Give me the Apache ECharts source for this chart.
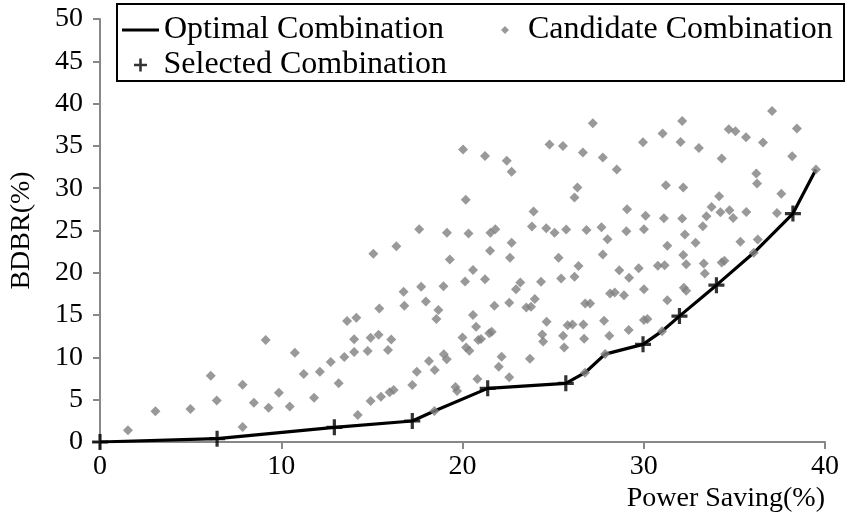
<!DOCTYPE html>
<html>
<head>
<meta charset="utf-8">
<script src="https://cdn.jsdelivr.net/npm/echarts@6/dist/echarts.min.js"></script>
<style>
  html, body { margin: 0; padding: 0; background: #ffffff; }
  #chart { width: 846px; height: 515px; }
</style>
</head>
<body>
<div id="chart"></div>
<script>
// Candidate combinations: power saving (%) and BDBR (%)
const candidatePower = [
  1.54, 3.06, 4.99, 6.11, 6.44, 7.87, 7.87, 8.49, 9.14, 9.30, 9.87, 10.47, 10.75, 11.24, 11.81, 12.13,
  12.73, 13.17, 13.48, 13.63, 14.14, 14.02, 14.02, 14.22, 14.77, 14.93, 14.93, 15.08, 15.37, 15.41,
  15.50, 15.89, 16.07, 15.98, 16.20, 16.35, 16.75, 16.79, 17.23, 17.48, 17.61, 17.72, 17.98, 18.15,
  18.47, 18.45, 18.67, 18.56, 18.95, 18.97, 19.13, 19.14, 19.30, 19.61, 19.70, 20.03, 20.18, 20.33,
  20.58, 20.14, 20.58, 20.75, 20.00, 20.20, 20.38, 20.87, 20.82, 21.24, 22.44, 22.71, 21.54, 21.81,
  21.52, 22.71, 22.62, 23.92, 23.83, 24.62, 25.08, 24.80, 25.54, 25.72, 25.30, 25.44, 24.33, 21.24,
  23.19, 22.95, 23.99, 22.58, 21.76, 23.52, 23.78, 21.02, 21.48, 21.61, 24.64, 24.40, 24.45, 25.55,
  25.61, 25.80, 22.16, 22.00, 23.72, 22.58, 27.19, 26.64, 27.74, 28.51, 29.96, 31.04, 26.34, 26.18,
  31.22, 29.08, 30.10, 31.11, 26.84, 27.67, 28.00, 29.04, 30.01, 31.30, 27.74, 26.40, 26.18, 28.65,
  29.19, 29.72, 30.01, 30.78, 31.15, 28.14, 28.40, 28.91, 26.77, 27.04, 31.30, 26.07, 26.67, 27.81,
  26.71, 28.10, 29.17, 30.01, 30.20, 31.01, 26.76, 27.87, 37.08, 32.12, 32.03, 33.04, 34.69, 35.06,
  35.64, 36.58, 38.45, 34.30, 38.19, 39.50, 36.21, 36.25, 32.18, 34.16, 37.59, 33.74, 34.23, 34.73,
  34.93, 35.66, 37.35, 32.12, 33.46, 33.26, 32.27, 32.86, 35.33, 36.29, 32.18, 32.34, 33.31, 33.37,
  34.30, 34.45, 36.07, 32.21, 32.34
];
const candidateBdbr = [
  1.38, 3.62, 3.90, 7.83, 4.92, 6.77, 1.77, 4.65, 12.05, 4.05, 5.83, 4.20, 10.55, 8.03, 5.24, 8.31,
  9.45, 6.93, 10.04, 14.29, 14.68, 12.16, 10.63, 3.19, 10.75, 12.32, 4.84, 22.24, 12.67, 15.79,
  5.35, 10.87, 12.13, 5.87, 6.14, 23.15, 17.75, 16.10, 6.73, 8.31, 25.16, 18.35, 16.61, 9.57,
  8.50, 3.66, 15.59, 14.53, 18.42, 10.36, 9.77, 24.72, 21.57, 6.50, 6.02, 34.57, 28.62, 24.65,
  20.33, 18.98, 15.00, 13.62, 12.36, 11.18, 10.79, 12.05, 7.44, 33.82, 33.23, 31.93, 24.72, 25.16,
  22.60, 23.54, 21.77, 27.24, 25.47, 25.27, 24.72, 35.16, 35.00, 25.12, 21.77, 19.33, 18.93, 19.25,
  18.86, 18.07, 16.89, 16.46, 16.10, 15.90, 15.98, 12.17, 12.84, 13.03, 14.21, 12.72, 11.89, 12.55,
  11.18, 13.80, 10.07, 8.90, 9.84, 7.64, 37.68, 34.21, 33.62, 32.20, 35.43, 36.46, 30.08, 28.90,
  30.35, 27.52, 26.73, 26.46, 25.07, 25.39, 23.98, 24.92, 25.16, 23.19, 22.17, 20.79, 19.53, 20.31,
  19.41, 20.55, 18.07, 20.82, 20.90, 17.56, 17.68, 17.36, 16.38, 16.38, 16.77, 13.90, 13.90, 14.33,
  12.20, 12.55, 13.23, 14.41, 14.53, 13.10, 8.19, 10.39, 39.13, 37.95, 35.47, 34.76, 36.97, 36.73,
  36.02, 35.40, 37.05, 33.51, 33.78, 32.20, 31.73, 30.55, 30.08, 29.05, 29.33, 27.79, 27.16, 27.40,
  26.49, 27.20, 27.08, 26.42, 26.69, 25.51, 24.53, 23.54, 23.66, 23.94, 22.09, 21.02, 21.10, 19.92,
  21.22, 21.41, 22.36, 18.22, 17.87
];

// Pareto front (optimal combinations)
const optimalPower = [0, 6.46, 12.93, 17.23, 18.45, 21.39, 25.70, 26.76, 27.87, 29.96, 31.01, 31.97, 34.01, 36.07, 38.23, 39.50];
const optimalBdbr  = [0, 0.39, 1.73, 2.48, 3.66, 6.34, 6.93, 8.19, 10.39, 11.54, 13.10, 14.88, 18.54, 22.36, 27.00, 32.20];

// Selected combinations on the front
const selectedPower = [0, 6.46, 12.93, 17.23, 21.39, 25.70, 29.96, 31.97, 34.01, 38.23];
const selectedBdbr  = [0, 0.39, 1.73, 2.48, 6.34, 6.93, 11.54, 14.88, 18.54, 27.00];

// Axis ticks
const xTicks = [0, 10, 20, 30, 40];
const yTicks = [0, 5, 10, 15, 20, 25, 30, 35, 40, 45, 50];

const seriesNames = ['Optimal Combination', 'Candidate Combination', 'Selected Combination'];
const axisTitles = { x: 'Power Saving(%)', y: 'BDBR(%)' };

const zip = (xs, ys) => xs.map((x, i) => [x, ys[i]]);
const plusPath = 'path://M4,0H6V4H10V6H6V10H4V6H0V4H4Z';
const diamondPath = 'path://M5,0L10,5L5,10L0,5Z';
const serif = '"Liberation Serif", "Times New Roman", serif';
const axisGray = '#888888';

const chart = echarts.init(document.getElementById('chart'), null, { renderer: 'canvas' });

const legendText = { fontFamily: serif, fontSize: 32, color: '#000000' };

chart.setOption({
  animation: false,
  backgroundColor: '#ffffff',
  grid: { left: 98, right: 21, top: 19, bottom: 73, containLabel: false },
  xAxis: {
    type: 'value',
    min: xTicks[0],
    max: xTicks[xTicks.length - 1],
    interval: xTicks[1] - xTicks[0],
    name: axisTitles.x,
    nameLocation: 'end',
    nameGap: 0,
    nameTextStyle: {
      fontFamily: serif, fontSize: 28, color: '#000000',
      align: 'right', verticalAlign: 'top', padding: [43, 0, 0, 0]
    },
    axisLine: { show: true, lineStyle: { color: axisGray, width: 2 } },
    axisTick: { show: true, inside: false, length: 7, lineStyle: { color: axisGray, width: 2 } },
    axisLabel: { fontFamily: serif, fontSize: 28, color: '#000000', margin: 11 },
    splitLine: { show: false }
  },
  yAxis: {
    type: 'value',
    min: yTicks[0],
    max: yTicks[yTicks.length - 1],
    interval: yTicks[1] - yTicks[0],
    name: axisTitles.y,
    nameLocation: 'middle',
    nameGap: 64,
    nameTextStyle: { fontFamily: serif, fontSize: 28, color: '#000000' },
    axisLine: { show: true, lineStyle: { color: axisGray, width: 2 } },
    axisTick: { show: true, inside: false, length: 7, lineStyle: { color: axisGray, width: 2 } },
    axisLabel: { fontFamily: serif, fontSize: 28, color: '#000000', margin: 17 },
    splitLine: { show: false }
  },
  legend: [
    {
      data: [{ name: seriesNames[0], icon: 'rect' }], left: 122, top: 14, padding: 0,
      itemWidth: 37, itemHeight: 3, textStyle: legendText,
      itemStyle: { color: '#000000' }
    },
    {
      data: [{ name: seriesNames[1], icon: diamondPath }], left: 501, top: 14, padding: 0,
      itemWidth: 36, itemHeight: 8, textStyle: legendText
    },
    {
      data: [{ name: seriesNames[2], icon: plusPath }], left: 134, top: 49, padding: 0,
      itemWidth: 36, itemHeight: 13, textStyle: legendText
    }
  ],
  graphic: [{
    type: 'rect',
    left: 116, top: 3, z: -1,
    shape: { width: 727, height: 77 },
    style: { fill: '#ffffff', stroke: '#000000', lineWidth: 2 }
  }],
  series: [
    {
      name: seriesNames[0],
      type: 'line',
      data: zip(optimalPower, optimalBdbr),
      symbol: 'none',
      lineStyle: { color: '#000000', width: 3.2 },
      itemStyle: { color: '#000000' },
      z: 2
    },
    {
      name: seriesNames[1],
      type: 'scatter',
      data: zip(candidatePower, candidateBdbr),
      symbol: 'diamond',
      symbolSize: 10,
      itemStyle: { color: '#808080' },
      z: 3
    },
    {
      name: seriesNames[2],
      type: 'scatter',
      data: zip(selectedPower, selectedBdbr),
      symbol: plusPath,
      symbolSize: 16,
      itemStyle: { color: '#000000' },
      z: 4
    }
  ]
});
</script>
</body>
</html>
